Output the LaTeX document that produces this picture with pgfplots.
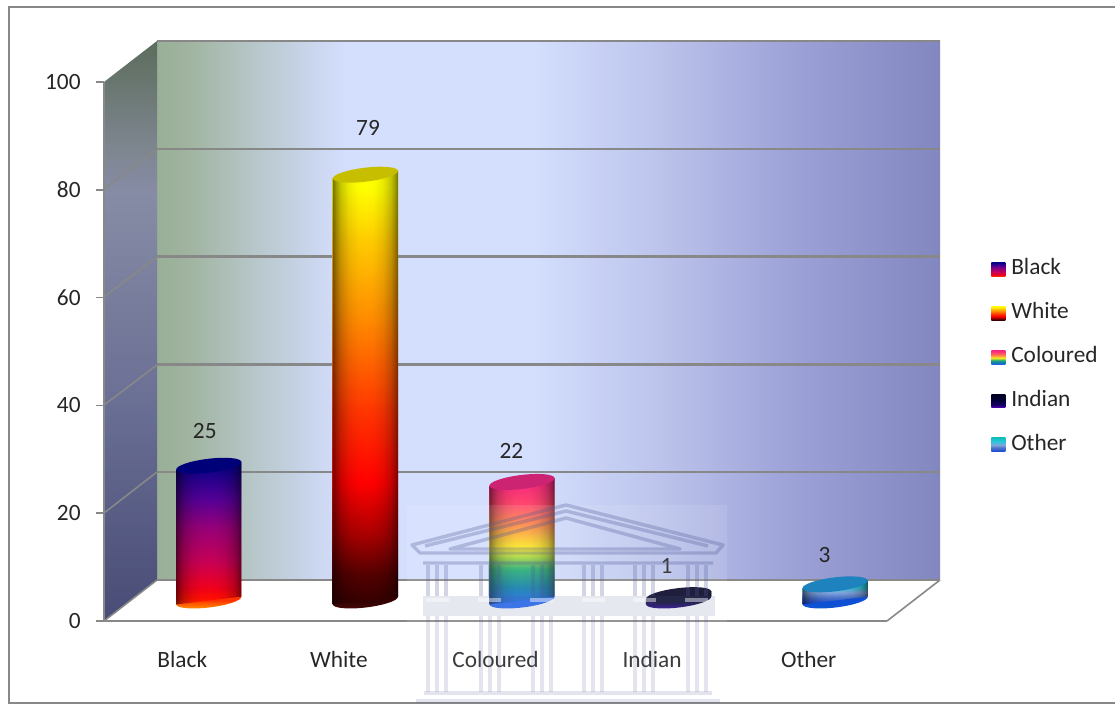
\documentclass[border=0pt]{standalone}
\usepackage{pgfplots}
\pgfplotsset{compat=1.18,/pgf/number format/assume math mode=true}
\usepackage{fontspec}
\setmainfont{Carlito}
\usetikzlibrary{fadings}

% wall and side panel
\pgfdeclarehorizontalshading{wall}{100bp}{
  rgb(0bp)=(.60,.686,.588); rgb(25bp)=(.60,.686,.588);
  rgb(27bp)=(.627,.706,.627); rgb(31bp)=(.714,.776,.784);
  rgb(35bp)=(.796,.839,.933); rgb(37bp)=(.831,.871,.992);
  rgb(49bp)=(.831,.871,.992); rgb(57bp)=(.737,.769,.925);
  rgb(66bp)=(.608,.627,.839); rgb(75bp)=(.51,.529,.753);
  rgb(100bp)=(.51,.529,.753)}
\pgfdeclareverticalshading{side}{100bp}{
  rgb(0bp)=(.282,.298,.463); rgb(25bp)=(.282,.298,.463);
  rgb(45bp)=(.424,.443,.588); rgb(62bp)=(.529,.549,.647);
  rgb(66bp)=(.49,.522,.557); rgb(75bp)=(.361,.424,.361);
  rgb(100bp)=(.361,.424,.361)}

% cylinder bodies, top of the shading is the top of the bar
\pgfdeclareverticalshading{barBlack}{100bp}{
  rgb(0bp)=(1,.2,0); rgb(25bp)=(1,.2,0); rgb(27bp)=(1,.06,0);
  rgb(31bp)=(.941,0,.118); rgb(40bp)=(.784,0,.333);
  rgb(52bp)=(.588,0,.471); rgb(62bp)=(.333,0,.588);
  rgb(75bp)=(0,0,.529); rgb(100bp)=(0,0,.529)}
\pgfdeclareverticalshading{barWhite}{100bp}{
  rgb(0bp)=(.2,0,0); rgb(25bp)=(.2,0,0); rgb(28.5bp)=(.33,0,0);
  rgb(33bp)=(.66,0,0); rgb(39bp)=(1,0,0);
  rgb(47bp)=(1,.2,0); rgb(58bp)=(1,.55,0);
  rgb(67bp)=(1,.8,0); rgb(73bp)=(1,1,0);
  rgb(100bp)=(1,1,0)}
\pgfdeclareverticalshading{barColoured}{100bp}{
  rgb(0bp)=(.118,.392,.941); rgb(25bp)=(.118,.392,.941);
  rgb(32bp)=(.06,.5,.66); rgb(39bp)=(.15,.68,.45);
  rgb(47bp)=(.98,.941,.118); rgb(57bp)=(1,.51,.275);
  rgb(65bp)=(1,.275,.431); rgb(75bp)=(.961,.137,.51);
  rgb(100bp)=(.961,.137,.51)}
\pgfdeclareverticalshading{barIndian}{100bp}{
  rgb(0bp)=(.353,0,.784); rgb(25bp)=(.353,0,.784);
  rgb(36bp)=(.08,0,.4); rgb(55bp)=(0,0,.2); rgb(75bp)=(0,0,.12);
  rgb(100bp)=(0,0,.12)}
\pgfdeclareverticalshading{barOther}{100bp}{
  rgb(0bp)=(.078,.275,.863); rgb(25bp)=(.078,.275,.863);
  rgb(38bp)=(.275,.431,.784); rgb(50bp)=(.51,.647,.863);
  rgb(62bp)=(.157,.784,.863); rgb(75bp)=(.078,.745,.745);
  rgb(100bp)=(.078,.745,.745)}

% lower rims
\pgfdeclareverticalshading{rimBlack}{100bp}{
  rgb(0bp)=(1,.6,0); rgb(25bp)=(1,.6,0); rgb(40bp)=(1,.38,0);
  rgb(50bp)=(1,.2,0); rgb(100bp)=(1,.2,0)}
\pgfdeclareverticalshading{rimWhite}{100bp}{
  rgb(0bp)=(.275,.04,.04); rgb(25bp)=(.275,.04,.04);
  rgb(50bp)=(.196,0,0); rgb(100bp)=(.196,0,0)}
\pgfdeclareverticalshading{rimColoured}{100bp}{
  rgb(0bp)=(.157,.431,.961); rgb(100bp)=(.118,.392,.941)}
\pgfdeclareverticalshading{rimIndian}{100bp}{
  rgb(0bp)=(.4,0,.82); rgb(25bp)=(.4,0,.82); rgb(31bp)=(.12,0,.5);
  rgb(45bp)=(.02,0,.2); rgb(100bp)=(.02,0,.2)}
\pgfdeclareverticalshading{rimOther}{100bp}{
  rgb(0bp)=(.04,.353,.804); rgb(100bp)=(.078,.275,.863)}

% darkening towards both sides of a cylinder
\pgfdeclarehorizontalshading{edgeprofile}{100bp}{
  rgb(0bp)=(.55,.55,.55); rgb(25bp)=(.55,.55,.55); rgb(28bp)=(.36,.36,.36);
  rgb(31bp)=(.22,.22,.22); rgb(37bp)=(.08,.08,.08); rgb(44bp)=(.01,.01,.01);
  rgb(50bp)=(0,0,0); rgb(56bp)=(.01,.01,.01);
  rgb(63bp)=(.08,.08,.08); rgb(69bp)=(.22,.22,.22); rgb(72bp)=(.36,.36,.36);
  rgb(75bp)=(.55,.55,.55); rgb(100bp)=(.55,.55,.55)}
\pgfdeclarefading{cylsides}{\pgfuseshading{edgeprofile}}

% tilted ellipses for the upper and lower ends of a cylinder
\pgfdeclareplotmark{cylcap}{%
  \pgfpathellipse{\pgfpointorigin}{\pgfqpoint{24.4pt}{2.93pt}}{\pgfqpoint{-0.63pt}{5.2pt}}%
  \pgfusepathqfill}
\newcommand\defrim[1]{%
  \pgfdeclareplotmark{rim#1}{%
    \pgfpathellipse{\pgfpointorigin}{\pgfqpoint{24.4pt}{2.93pt}}{\pgfqpoint{-0.63pt}{5.2pt}}%
    \pgfshadepath{rim#1}{0}\pgfusepath{discard}}}
\defrim{Black}\defrim{White}\defrim{Coloured}\defrim{Indian}\defrim{Other}

\newcommand\chartfont{\fontsize{17.5}{20}\selectfont}

% one cylinder: x, value, name, cap colour, label shift x, label shift y
\newcommand\cylinder[6]{%
  \addplot[forget plot,ybar,bar width=49pt,draw=none,shade,shading=bar#3,
    yslant=0.12,yshift={-0.12*#1*117.45pt}] coordinates {(#1,#2)};
  \addplot[forget plot,ybar,bar width=49pt,draw=none,fill=black,path fading=cylsides,
    yslant=0.12,yshift={-0.12*#1*117.45pt}] coordinates {(#1,#2)};
  \addplot[forget plot,only marks,mark=cylcap,mark options={fill=#4,draw=none},
    nodes near coords,
    every node near coord/.append style={anchor=center,xshift=#5,yshift=#6,
      font=\chartfont,text=black!85}] coordinates {(#1,#2)};
}

% square legend swatch filled with a cylinder's shading
\newcommand\swatch[1]{\addlegendimage{legend image code/.code={%
  \path[draw=none] (0pt,0pt) -- (15pt,0pt);
  \shade[draw=none,shading=bar#1] (0pt,-5.2pt) rectangle (10.5pt,5.2pt);}}}

\definecolor{axisgrey}{RGB}{136,136,136}
\definecolor{capA}{RGB}{0,0,120}
\definecolor{capB}{RGB}{200,190,0}
\definecolor{capC}{RGB}{205,35,115}
\definecolor{capD}{RGB}{6,6,40}
\definecolor{capE}{RGB}{30,130,190}
\definecolor{crest}{RGB}{80,90,150}

\pgfplotsset{cylinder plane/.style={at={(97.875pt,77.625pt)},anchor=south west,scale only axis,
  width=587.25pt,height=404.25pt,xmin=0,xmax=5,ymin=0,ymax=100,clip=false,axis lines=none}}

\begin{document}
\begin{tikzpicture}
\path[use as bounding box] (0,0) rectangle (836.25pt,528pt);

% back wall with its gridlines
\begin{axis}[at={(117.75pt,93pt)},anchor=south west,scale only axis,
  width=587.25pt,height=404.25pt,xmin=0,xmax=5,ymin=0,ymax=100,clip=false,
  axis background/.style={shade,shading=wall},
  axis line style={draw=none},major tick length=0pt,
  xtick=\empty,ytick={0,20,40,60,80,100},yticklabels={},
  ymajorgrids,grid style={axisgrey,line width=1.7pt}]
\end{axis}

% side panel
\shade[shading=side] (78pt,62.25pt) -- (117.75pt,93pt) -- (117.75pt,497.25pt) -- (78pt,466.5pt) -- cycle;

\begin{scope}[x=.75pt,y=-.75pt,yshift=528pt]
  % floor edges and the gridlines running along the side panel
  \draw[axisgrey,line width=1.2pt] (104,621) -- (157,580);
  \draw[axisgrey,line width=1.2pt] (887,621) -- (940,580);
  \foreach \ya/\yb in {189/149,297/257,405/365,513/472}
    \draw[axisgrey,line width=1.2pt] (104,\ya) -- (157,\yb);
  % outer frame
  \draw[axisgrey,line width=1.5pt] (1116,7) -- (9,7) -- (9,703) -- (1116,703);
\end{scope}

% value axis and category axis at the front edge
\begin{axis}[at={(78pt,62.25pt)},anchor=south west,scale only axis,
  width=587.25pt,height=404.25pt,xmin=0,xmax=5,ymin=0,ymax=100,
  axis x line*=bottom,axis y line*=left,axis line style={axisgrey,line width=1.2pt,-},
  tick align=outside,major tick length=6pt,minor tick length=6pt,
  ytick={0,20,40,60,80,100},ytick style={axisgrey,line width=1.2pt},
  xtick={0.5,1.5,2.5,3.5,4.5},xticklabels={Black,White,Coloured,Indian,Other},
  xtick style={draw=none},minor xtick={0,1,2,3,4,5},
  minor x tick style={axisgrey,line width=1.2pt},
  tick label style={font=\chartfont,text=black!85},
  xticklabel style={yshift=-13pt},
  yticklabel style={xshift=-8pt}]
\end{axis}

% lower rims of the cylinders, behind the bodies
\begin{axis}[cylinder plane]
  \addplot[forget plot,only marks,mark=rimBlack] coordinates {(0.5,0)};
  \addplot[forget plot,only marks,mark=rimWhite] coordinates {(1.5,0)};
  \addplot[forget plot,only marks,mark=rimColoured] coordinates {(2.5,0)};
  \addplot[forget plot,only marks,mark=rimIndian] coordinates {(3.5,0)};
  \addplot[forget plot,only marks,mark=rimOther] coordinates {(4.5,0)};
\end{axis}

% cylinders, set half way into the depth of the floor
\begin{axis}[cylinder plane,
  legend cell align=left,
  legend style={at={(1.099,0.632)},anchor=north west,draw=none,fill=none,
    inner sep=0pt,row sep=18.9pt,font=\chartfont,text=black!85,
    nodes={inner sep=0pt,text height=11pt,text depth=3pt}}]
  \cylinder{0.5}{25}{Black}{capA}{-3pt}{26pt}
  \cylinder{1.5}{79}{White}{capB}{2pt}{35pt}
  \cylinder{2.5}{22}{Coloured}{capC}{-8pt}{23pt}
  \cylinder{3.5}{1}{Indian}{capD}{-9pt}{22pt}
  \cylinder{4.5}{3}{Other}{capE}{-8pt}{22pt}
  \swatch{Black}\addlegendentry{Black}
  \swatch{White}\addlegendentry{White}
  \swatch{Coloured}\addlegendentry{Coloured}
  \swatch{Indian}\addlegendentry{Indian}
  \swatch{Other}\addlegendentry{Other}
\end{axis}

% faint building crest laid over the lower middle of the chart
\begin{scope}[x=.75pt,y=-.75pt,yshift=528pt]
  \fill[white,opacity=.1] (407,505) rectangle (727,690);
  \draw[crest,opacity=.3,line width=2.6pt,line join=round]
    (412,545) -- (566,505) -- (723,545) -- (716,553) -- (420,553) -- cycle
    (425,546) -- (566,511) -- (708,546)
    (450,549) -- (566,518) -- (680,549) -- cycle
    (423,563) -- (713,563);
  \draw[crest,opacity=.16,line width=2.6pt]
    (424,693) -- (712,693) (416,701) -- (720,701);
  \fill[crest,opacity=.14] (423,596) rectangle (715,616);
  \foreach \xc in {437,490,542,593,644,697}
    \foreach \dx in {-9,0,9} {
      \draw[crest,opacity=.25,line width=2.4pt] (\xc+\dx,565) -- (\xc+\dx,596);
      \draw[crest,opacity=.16,line width=2.4pt] (\xc+\dx,616) -- (\xc+\dx,692);
    }
  \foreach \xa in {426,478,530,582,633,685}
    \fill[white,opacity=.45] (\xa,598) rectangle ++(23,4);
\end{scope}
\end{tikzpicture}
\end{document}
